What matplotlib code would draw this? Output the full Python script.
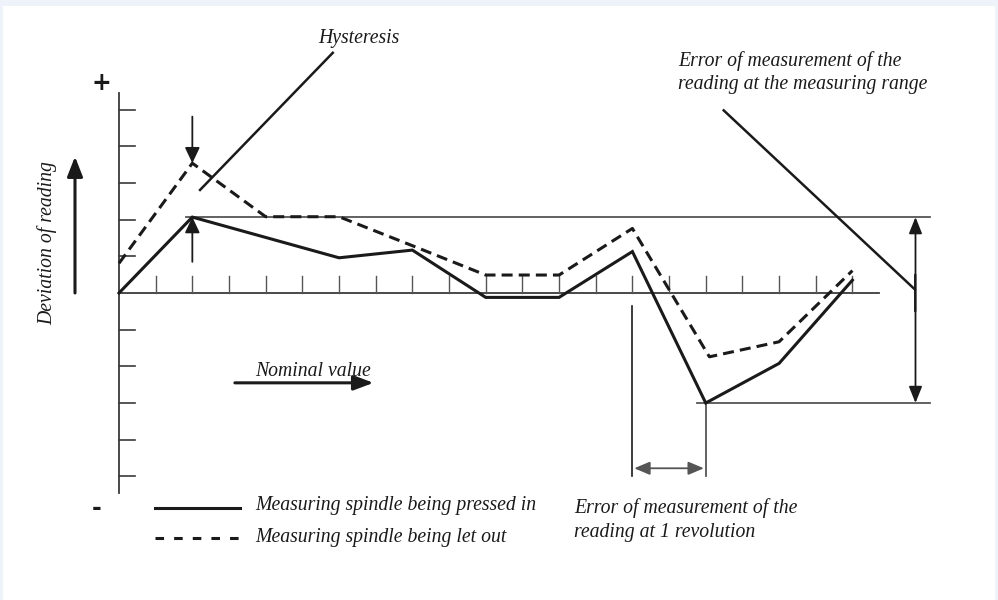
import matplotlib
matplotlib.use("Agg")
import matplotlib.pyplot as plt
from matplotlib.patches import Rectangle

# readings, in scale divisions (x: nominal value, y: deviation)
pressed_x = [0, 2, 6, 8, 10, 12, 14, 16, 18, 20]
pressed_y = [0, 2.07, 0.96, 1.17, -0.12, -0.12, 1.13, -3.0, -1.92, 0.35]
let_out_x = [0, 2, 4, 6, 8, 10, 12, 14, 16.1, 18, 20]
let_out_y = [0.81, 3.54, 2.08, 2.08, 1.29, 0.49, 0.49, 1.76, -1.74, -1.33, 0.61]

x_ticks = list(range(1, 21))
y_ticks = [-5, -4, -3, -2, -1, 1, 2, 3, 4, 5]

legend_labels = ["Measuring spindle being pressed in", "Measuring spindle being let out"]
hysteresis_label = "Hysteresis"
range_label = ["Error of measurement of the", "reading at the measuring range"]
rev_label = ["Error of measurement of the", "reading at 1 revolution"]
x_label = "Nominal value"
y_label = "Deviation of reading"

INK = "#1a1a1a"
AXIS = "#3a3a3a"
THIN = "#555555"
SERIF = dict(family="Liberation Serif", style="italic", color=INK, fontsize=14.2)

fig = plt.figure(figsize=(9.98, 6), dpi=100, facecolor="#eef2f9")
ax = fig.add_axes([0, 0, 1, 1])
ax.set_facecolor("none")
ax.set_xlim(-3.245, 23.97)
ax.set_ylim(-8.372, 7.99)
ax.axis("off")
# white panel inside the light frame
ax.add_patch(Rectangle((3 / 998, 0), 992 / 998, 594 / 600, transform=ax.transAxes,
                       facecolor="white", edgecolor="none", zorder=-10))


def arrow(tail, tip, lw, hl, hw, color=INK, both=False):
    style = "<|-|>" if both else "-|>"
    ax.annotate("", xy=tip, xytext=tail,
                arrowprops=dict(arrowstyle=f"{style},head_length={hl},head_width={hw}",
                                lw=lw, color=color, shrinkA=0, shrinkB=0,
                                mutation_scale=10))


# axes and ticks
ax.plot([0, 0], [-5.46, 5.45], color=AXIS, lw=1.3)
ax.plot([0, 20.72], [0, 0], color=AXIS, lw=1.3)
for t in y_ticks:
    ax.plot([0, 0.44], [t, t], color=AXIS, lw=1.2)
for t in x_ticks:
    ax.plot([t, t], [0, 0.46], color=THIN, lw=1.0)

# reference lines for error of measurement at measuring range
ax.plot([1.84, 22.12], [max(pressed_y), max(pressed_y)], color=THIN, lw=1.3)
ax.plot([15.75, 22.12], [min(pressed_y), min(pressed_y)], color=THIN, lw=1.3)
arrow((21.72, -0.5), (21.72, max(pressed_y)), 1.3, 1.0, 0.4)
arrow((21.72, 0.5), (21.72, min(pressed_y)), 1.3, 1.0, 0.4)
ax.plot([21.72, 21.72], [-0.5, 0.5], color=INK, lw=1.3)

# 1 revolution
ax.plot([14, 14], [-0.36, -5.0], color=INK, lw=1.2)
ax.plot([16, 16], [-3.0, -5.0], color=THIN, lw=1.3)
arrow((14.05, -4.78), (15.95, -4.78), 1.3, 0.95, 0.4, color=THIN, both=True)

# data
ax.plot(pressed_x, pressed_y, color=INK, lw=2.2, solid_joinstyle="miter")
ax.plot(let_out_x, let_out_y, color=INK, lw=2.2, dashes=(3.6, 2.0))

# hysteresis
arrow((2, 4.81), (2, 3.54), 1.3, 0.95, 0.45)
arrow((2, 0.85), (2, 2.07), 1.3, 0.95, 0.45)
ax.plot([2.21, 5.83], [2.81, 6.55], color=INK, lw=1.8)
ax.text(5.43, 6.83, hysteresis_label, va="baseline", ha="left", **SERIF)

# leader for measuring range
ax.plot([16.49, 21.7], [4.98, 0.1], color=INK, lw=1.8)
ax.text(15.24, 6.19, range_label[0], va="baseline", ha="left", **SERIF)
ax.text(15.24, 5.55, range_label[1], va="baseline", ha="left", **SERIF)

ax.text(12.41, -6.01, rev_label[0], va="baseline", ha="left", **SERIF)
ax.text(12.41, -6.65, rev_label[1], va="baseline", ha="left", **SERIF)

# axis titles with arrows
arrow((-1.2, 0), (-1.2, 3.72), 2.2, 1.2, 0.47)
ax.text(-1.96, 1.36, y_label, rotation=90, va="center", ha="center", **SERIF)
arrow((3.16, -2.45), (6.94, -2.45), 2.2, 1.2, 0.45)
ax.text(3.71, -2.26, x_label, va="baseline", ha="left", **SERIF)

ax.text(-0.49, 5.72, "+", fontsize=17, fontweight="bold", color=INK,
        ha="center", va="center")
ax.text(-0.61, -5.85, "-", fontsize=17, fontweight="bold", color=INK,
        ha="center", va="center")

# legend
ax.plot([0.98, 3.3], [-5.87, -5.87], color=INK, lw=2.2)
ax.plot([0.98, 3.3], [-6.69, -6.69], color=INK, lw=2.2, dashes=(2.8, 3.3))
ax.text(3.71, -5.92, legend_labels[0], va="baseline", ha="left", **SERIF)
ax.text(3.71, -6.78, legend_labels[1], va="baseline", ha="left", **SERIF)

fig.savefig("out.png", dpi=100, facecolor=fig.get_facecolor())
